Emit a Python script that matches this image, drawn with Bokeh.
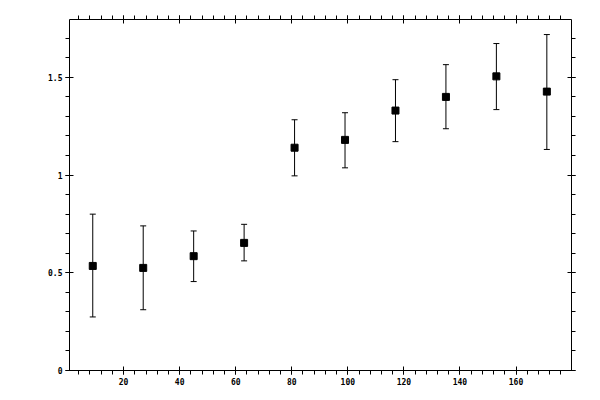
from bokeh.plotting import figure
from bokeh.models import (ColumnDataSource, Whisker, TeeHead, LinearAxis, Range1d,
                          SingleIntervalTicker, CustomJSTickFormatter)
from bokeh.embed import file_html
from bokeh.resources import INLINE

# data
x = [9, 27, 45, 63, 81, 99, 117, 135, 153, 171]
y = [0.535, 0.525, 0.585, 0.653, 1.14, 1.18, 1.33, 1.40, 1.505, 1.427]
upper = [0.80, 0.74, 0.714, 0.748, 1.283, 1.319, 1.488, 1.565, 1.673, 1.719]
lower = [0.274, 0.311, 0.455, 0.561, 0.996, 1.037, 1.171, 1.237, 1.335, 1.131]

source = ColumnDataSource(data=dict(x=x, y=y, upper=upper, lower=lower))

p = figure(width=592, height=392, output_backend="svg", toolbar_location=None,
           x_range=Range1d(0.7, 179.8), y_range=Range1d(0, 1.796),
           x_axis_location=None, y_axis_location=None,
           min_border_left=69, min_border_top=19, min_border_right=21, min_border_bottom=22)
p.outline_line_color = None
p.xgrid.visible = False
p.ygrid.visible = False

fmt = CustomJSTickFormatter(code="return String(Math.round(tick*10)/10)")
blank = CustomJSTickFormatter(code="return ''")


def make_axis(ticker, labels):
    ax = LinearAxis(ticker=ticker)
    ax.axis_line_color = "black"
    ax.major_tick_line_color = "black"
    ax.minor_tick_line_color = "black"
    ax.major_tick_in = 4
    ax.major_tick_out = 4
    ax.minor_tick_in = 0
    ax.minor_tick_out = 4
    ax.major_label_text_font = "DejaVu Sans Mono"
    ax.major_label_text_font_size = "8px"
    ax.major_label_text_font_style = "bold"
    ax.major_label_text_color = "black"
    ax.major_label_standoff = 3
    ax.formatter = fmt if labels else blank
    if not labels:
        ax.major_label_standoff = 0
    return ax


xt = SingleIntervalTicker(interval=20, num_minor_ticks=5)
yt = SingleIntervalTicker(interval=0.5, num_minor_ticks=5)

p.add_layout(make_axis(xt, True), "below")
p.add_layout(make_axis(xt, False), "above")
p.add_layout(make_axis(yt, True), "left")
p.add_layout(make_axis(yt, False), "right")

whisk = Whisker(source=source, base="x", upper="upper", lower="lower",
                line_color="black", line_width=1,
                upper_head=TeeHead(size=6, line_color="black", line_width=1),
                lower_head=TeeHead(size=6, line_color="black", line_width=1))
p.add_layout(whisk)

p.scatter("x", "y", source=source, marker="square", size=7,
          fill_color="black", line_color="black")

open("out.html", "w").write(file_html(p, INLINE))
